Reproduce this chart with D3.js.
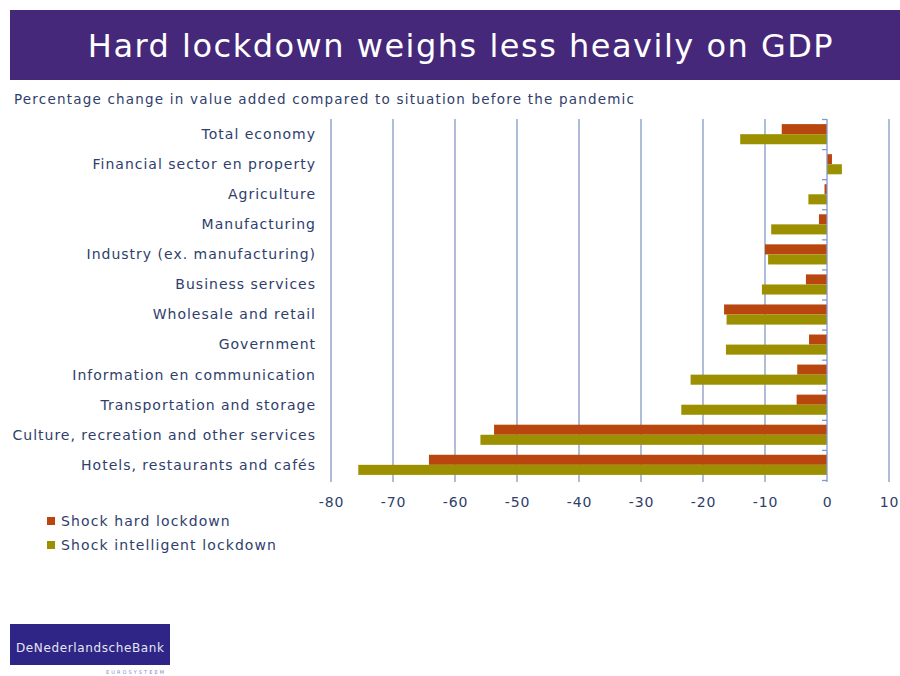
<!DOCTYPE html>
<html><head><meta charset="utf-8">
<script src="https://cdn.jsdelivr.net/npm/d3@7"></script>
<style>body{margin:0;background:#fff}svg{display:block}</style>
</head><body>
<svg id="c" width="900" height="676"></svg>
<script>
const categories = ["Total economy","Financial sector en property","Agriculture","Manufacturing","Industry (ex. manufacturing)","Business services","Wholesale and retail","Government","Information en communication","Transportation and storage","Culture, recreation and other services","Hotels, restaurants and cafés"];
const hardLockdown = [-7.3,0.8,-0.4,-1.3,-10.0,-3.4,-16.6,-2.9,-4.8,-4.9,-53.7,-64.2];
const intelligentLockdown = [-14.0,2.4,-3.0,-9.0,-9.5,-10.5,-16.2,-16.3,-22.0,-23.5,-55.9,-75.6];
const seriesNames = ["Shock hard lockdown","Shock intelligent lockdown"];
const xTicks = [-80,-70,-60,-50,-40,-30,-20,-10,0,10];
const titleText = "Hard lockdown weighs less heavily on GDP";
const subtitleText = "Percentage change in value added compared to situation before the pandemic";

const colors = ["#B8460E","#9C9000"];
const textCol = "#2F3E6B";
const gridCol = "#8598C4";
const font = "Verdana, 'DejaVu Sans', sans-serif";

const svg = d3.select("#c");
// title bar
svg.append("rect").attr("x",10).attr("y",10).attr("width",890).attr("height",70).attr("fill","#45287A");
svg.append("text").attr("x",461).attr("y",57).attr("text-anchor","middle").attr("fill","#fff")
  .style("font-family",font).style("font-size","32px").style("letter-spacing","1.5px").text(titleText);
svg.append("text").attr("x",14).attr("y",104).attr("fill",textCol)
  .style("font-family",font).style("font-size","13.5px").style("letter-spacing","1.2px").text(subtitleText);

const x = d3.scaleLinear().domain([-80,10]).range([331,889]);
const y = d3.scaleBand().domain(categories).range([119,480]).paddingInner(0.33).paddingOuter(0.17);
const ySub = d3.scaleBand().domain([0,1]).range([0,y.bandwidth()]);

// gridlines
svg.append("g").selectAll("line").data(xTicks.filter(d=>d!==0)).join("line")
  .attr("x1",d=>x(d)).attr("x2",d=>x(d)).attr("y1",119).attr("y2",482)
  .attr("stroke",gridCol).attr("stroke-width",1.3);

// bars
const data = [hardLockdown,intelligentLockdown];
const g = svg.append("g");
categories.forEach((c,i)=>{
  data.forEach((s,j)=>{
    const v = s[i];
    g.append("rect").attr("x",x(Math.min(0,v))).attr("width",Math.abs(x(v)-x(0)))
      .attr("y",y(c)+ySub(j)).attr("height",ySub.bandwidth()).attr("fill",colors[j]);
  });
});

// zero axis with ticks
const yAxis = d3.axisLeft(d3.scaleLinear().domain([0,12]).range([119,480])).ticks(12).tickSize(5).tickFormat("");
const ax = svg.append("g").attr("transform",`translate(${x(0)},0)`).call(yAxis);
ax.selectAll("path,line").attr("stroke",gridCol).attr("stroke-width",1.3);
ax.select("path").attr("d","M0,119V482");

// category labels
svg.append("g").selectAll("text").data(categories).join("text")
  .attr("x",316).attr("y",d=>y(d)+y.bandwidth()/2).attr("dy","0.35em").attr("text-anchor","end")
  .attr("fill",textCol).style("font-family",font).style("font-size","14px").style("letter-spacing","1px").text(d=>d);

// x tick labels
const xAxis = d3.axisBottom(x).tickValues(xTicks).tickSize(0).tickPadding(0).tickFormat(d=>String(d));
const xa = svg.append("g").attr("transform","translate(0,497)").call(xAxis);
xa.select(".domain").remove();
xa.selectAll("text").attr("fill",textCol).style("font-family",font).style("font-size","14px").style("letter-spacing","0.8px");

// legend
seriesNames.forEach((n,j)=>{
  svg.append("rect").attr("x",47).attr("y",517+j*24).attr("width",8).attr("height",8).attr("fill",colors[j]);
  svg.append("text").attr("x",61).attr("y",521+j*24).attr("dy","0.35em").attr("fill",textCol)
    .style("font-family",font).style("font-size","14px").style("letter-spacing","1.1px").text(n);
});

// logo
svg.append("rect").attr("x",10).attr("y",624).attr("width",160).attr("height",41).attr("fill","#2E2586");
svg.append("text").attr("x",16).attr("y",652).attr("fill","#E6E6F2").style("font-family",font)
  .style("font-size","12px").attr("textLength",148).text("DeNederlandscheBank");
svg.append("text").attr("x",106).attr("y",674).attr("fill","#8C87C0").style("font-family",font)
  .style("font-size","5px").attr("textLength",58).text("EUROSYSTEEM");
</script>
</body></html>
